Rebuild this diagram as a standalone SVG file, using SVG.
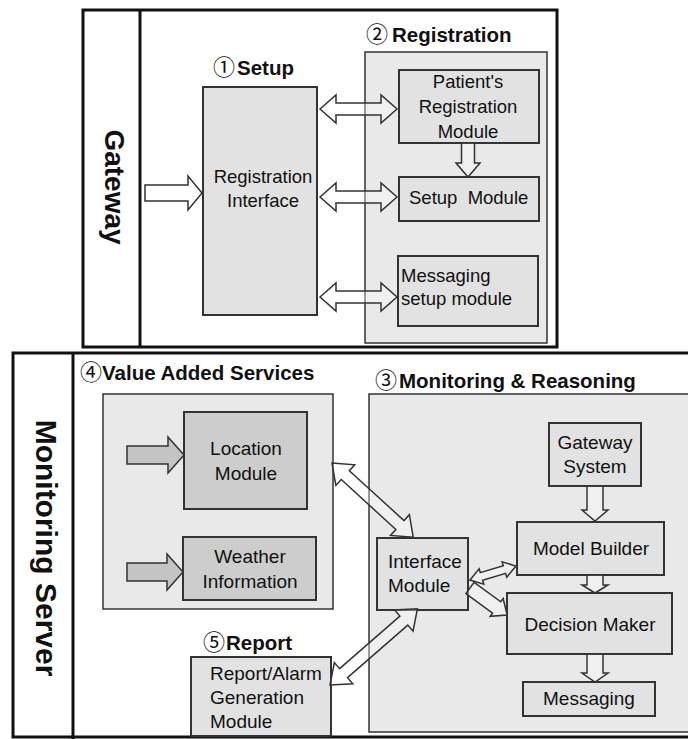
<svg xmlns="http://www.w3.org/2000/svg" width="688" height="739" viewBox="0 0 688 739">
<style>
.bg{fill:#ffffff}
.outer{fill:none;stroke:#111;stroke-width:3}
.grp{stroke:#333;stroke-width:1.5}
.mod{stroke:#333;stroke-width:2}
.g1{fill:#e9e9e9}
.g2{fill:#e2e2e2}
.g3{fill:#cdcdcd}
.lbl{font-family:"Liberation Sans","Noto Sans CJK JP",sans-serif;font-weight:bold;font-size:20.5px;fill:#111}
.num{font-family:"Noto Sans CJK JP",sans-serif;font-weight:normal;font-size:22px}
.vt{font-family:"Liberation Sans",sans-serif;font-weight:bold;fill:#111;text-anchor:middle}
.t{font-family:"Liberation Sans",sans-serif;font-size:18.5px;fill:#111}
.tb{font-family:"Liberation Sans",sans-serif;font-size:19px;fill:#111}
.c{text-anchor:middle}
.arr{fill:#ffffff;fill-opacity:0.35;stroke:#333;stroke-width:1.5;stroke-linejoin:miter}
.arrg{fill:#c4c4c4;stroke:#333;stroke-width:1.5}
</style>
<rect class="bg" x="0" y="0" width="688" height="739"/>

<g id="gateway">
  <rect class="outer" x="83" y="10" width="474" height="337"/>
  <line x1="140" y1="10" x2="140" y2="347" stroke="#111" stroke-width="3"/>
  <text class="vt" font-size="28" transform="translate(105,187) rotate(90)">Gateway</text>
</g>

<g id="setup">
  <text class="lbl" x="213" y="75"><tspan class="num">①</tspan><tspan dx="2">Setup</tspan></text>
  <rect class="mod g2" x="203" y="87" width="114" height="228" stroke-width="1.5"/>
  <text class="t c" x="263" y="183">Registration</text>
  <text class="t c" x="263" y="207">Interface</text>
</g>

<g id="registration">
  <text class="lbl" x="366" y="42"><tspan class="num">②</tspan><tspan dx="4">Registration</tspan></text>
  <rect class="grp g1" x="365" y="52" width="182" height="291"/>
</g>
<g id="patient-registration">
  <rect class="mod g2" x="399" y="70" width="140" height="73"/>
  <text class="t c" x="468" y="88">Patient's</text>
  <text class="t c" x="468" y="113">Registration</text>
  <text class="t c" x="468" y="138">Module</text>
</g>
<g id="setup-module">
  <rect class="mod g2" x="399" y="177" width="140" height="44"/>
  <text class="t" x="409" y="204" xml:space="preserve">Setup  Module</text>
</g>
<g id="messaging-setup">
  <rect class="mod g2" x="398" y="256" width="140" height="70"/>
  <text class="t" x="401" y="282">Messaging</text>
  <text class="t" x="401" y="305">setup module</text>
</g>

<g id="monitoring-server">
  <rect class="outer" x="13" y="353" width="680" height="384"/>
  <line x1="73" y1="353" x2="73" y2="739" stroke="#111" stroke-width="3"/>
  <text class="vt" font-size="30" transform="translate(36,548) rotate(90)">Monitoring Server</text>
</g>

<g id="value-added-services">
  <text class="lbl" x="80" y="380"><tspan class="num">④</tspan><tspan dx="0">Value Added Services</tspan></text>
  <rect class="grp g1" x="103" y="394" width="230" height="215"/>
</g>
<g id="location-module">
  <rect class="mod g3" x="184" y="412" width="123" height="97"/>
  <text class="tb c" x="246" y="455">Location</text>
  <text class="tb c" x="246" y="480">Module</text>
</g>
<g id="weather-information">
  <rect class="mod g3" x="183" y="537" width="133" height="63"/>
  <text class="tb c" x="250" y="563">Weather</text>
  <text class="tb c" x="250" y="588">Information</text>
</g>

<g id="report">
  <text class="lbl" x="203" y="650"><tspan class="num">⑤</tspan><tspan dx="1">Report</tspan></text>
  <rect class="mod g2" x="191" y="657" width="140" height="79"/>
  <text class="tb" x="210" y="680">Report/Alarm</text>
  <text class="tb" x="210" y="704">Generation</text>
  <text class="tb" x="210" y="728">Module</text>
</g>

<g id="monitoring-reasoning">
  <text class="lbl" x="375" y="388"><tspan class="num">③</tspan><tspan dx="2">Monitoring &amp; Reasoning</tspan></text>
  <rect class="grp g1" x="369" y="394" width="330" height="338"/>
</g>
<g id="gateway-system">
  <rect class="mod g2" x="549" y="423" width="92" height="63"/>
  <text class="tb c" x="595" y="449">Gateway</text>
  <text class="tb c" x="595" y="473">System</text>
</g>
<g id="model-builder">
  <rect class="mod g2" x="517" y="522" width="147" height="53"/>
  <text class="tb c" x="591" y="555">Model Builder</text>
</g>
<g id="decision-maker">
  <rect class="mod g2" x="507" y="593" width="165" height="61"/>
  <text class="tb c" x="590" y="631">Decision Maker</text>
</g>
<g id="messaging">
  <rect class="mod g2" x="523" y="682" width="132" height="34"/>
  <text class="tb c" x="589" y="705">Messaging</text>
</g>
<g id="interface-module">
  <rect class="mod g2" x="377" y="538" width="91" height="72"/>
  <text class="tb" x="388" y="568">Interface</text>
  <text class="tb" x="388" y="592">Module</text>
</g>

<g id="connectors">
  <polygon class="arr" fill-opacity="1" transform="translate(145,193)" points="0,-8 43,-8 43,-17 57,0 43,17 43,8 0,8"/>
  <polygon class="arr" transform="translate(320,109)" points="0,0 16,-14 16,-6 61,-6 61,-14 77,0 61,14 61,6 16,6 16,14"/>
  <polygon class="arr" transform="translate(320,197)" points="0,0 16,-14 16,-6 61,-6 61,-14 77,0 61,14 61,6 16,6 16,14"/>
  <polygon class="arr" transform="translate(320,297)" points="0,0 16,-14 16,-6 61,-6 61,-14 77,0 61,14 61,6 16,6 16,14"/>
  <polygon class="arr" transform="translate(468,143) rotate(90)" points="0,-6.5 20,-6.5 20,-12 34,0 20,12 20,6.5 0,6.5"/>
  <polygon class="arrg" transform="translate(127,455)" points="0,-9 41,-9 41,-18 57,0 41,18 41,9 0,9"/>
  <polygon class="arrg" transform="translate(127,572)" points="0,-9 40,-9 40,-18 56,0 40,18 40,9 0,9"/>
  <polygon class="arr" transform="translate(595,486) rotate(90)" points="0,-8 24,-8 24,-13 35,0 24,13 24,8 0,8"/>
  <polygon class="arr" transform="translate(595,575) rotate(90)" points="0,-8 10,-8 10,-13 18,0 10,13 10,8 0,8"/>
  <polygon class="arr" transform="translate(595,654) rotate(90)" points="0,-8 19,-8 19,-13 28,0 19,13 19,8 0,8"/>
  <polygon class="arr" transform="translate(332,463) rotate(42.4)" points="0,0 18,-14 18,-6 92,-6 92,-14 110,0 92,14 92,6 18,6 18,14"/>
  <polygon class="arr" transform="translate(330,685) rotate(-41.1)" points="0,0 18,-14 18,-6 98,-6 98,-14 116,0 98,14 98,6 18,6 18,14"/>
  <polygon class="arr" transform="translate(470,580) rotate(-16.9)" points="0,0 12,-8 12,-4 36,-4 36,-8 48,0 36,8 36,4 12,4 12,8"/>
  <polygon class="arr" transform="translate(470,588) rotate(36.1)" points="0,-7 33,-7 33,-11 46,0 33,11 33,7 0,7"/>
</g>
</svg>
